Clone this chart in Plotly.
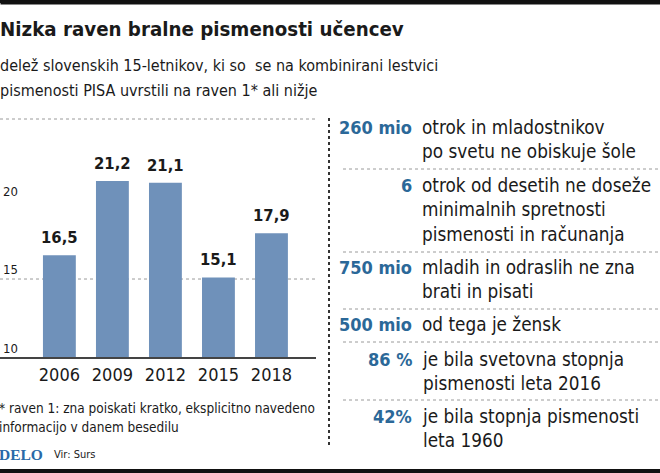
import plotly.graph_objects as go

# ---- data ----
years = ["2006", "2009", "2012", "2015", "2018"]
shares = [16.5, 21.2, 21.1, 15.1, 17.9]
y_ticks = [10, 15, 20]

stat_numbers = ["260 mio", "6", "750 mio", "500 mio", "86 %", "42%"]
stat_texts = [
    "otrok in mladostnikov<br>po svetu ne obiskuje šole",
    "otrok od desetih ne doseže<br>minimalnih spretnosti<br>pismenosti in računanja",
    "mladih in odraslih ne zna<br>brati in pisati",
    "od tega je žensk",
    "je bila svetovna stopnja<br>pismenosti leta 2016",
    "je bila stopnja pismenosti<br>leta 1960",
]

title = "Nizka raven bralne pismenosti učencev"
subtitle = ["delež slovenskih 15-letnikov, ki so  se na kombinirani lestvici",
            "pismenosti PISA uvrstili na raven 1* ali nižje"]
footnote = ["* raven 1: zna poiskati kratko, eksplicitno navedeno",
            "informacijo v danem besedilu"]
source = "Vir: Surs"
brand = "DELO"

# ---- style ----
W, H = 660, 473
FONT = "DejaVu Sans Condensed, DejaVu Sans, sans-serif"
BAR = "#6f91ba"
BLUE = "#2b6898"
TXT = "#1a1a1a"


def px(x):
    return x / W


def py(y):
    return 1 - y / H


fig = go.Figure()
fig.add_trace(go.Bar(x=years, y=shares, marker_color=BAR, marker_line_width=0,
                     hoverinfo="skip"))

ann = []
# value labels (category index positions taken from the data order)
for i, v in enumerate(shares):
    ann.append(dict(x=i, y=v, xref="x", yref="y", text=f"<b>{v:.1f}</b>".replace(".", ","),
                    showarrow=False, yanchor="bottom", yshift=6,
                    font=dict(family=FONT, size=16.5, color=TXT)))

# top black rule as a filled annotation box
ann.append(dict(x=0, y=1, xref="paper", yref="paper", xanchor="left", yanchor="top",
                text=" ", showarrow=False, width=W, height=1, bgcolor="#111111",
                borderpad=1, font=dict(size=1)))

# title & subtitle
ann.append(dict(x=px(-2), y=py(29), xref="paper", yref="paper", xanchor="left", yanchor="middle",
                text=f"<b>{title}</b>", showarrow=False,
                font=dict(family=FONT, size=20.3, color=TXT)))
for i, s in enumerate(subtitle):
    ann.append(dict(x=px(-2), y=py(65 + 26 * i), xref="paper", yref="paper", xanchor="left",
                    yanchor="middle", text=s, showarrow=False,
                    font=dict(family=FONT, size=16, color=TXT, weight=300)))

# right panel
row_centers = [128, 186, 268, 325, 360, 417]
for num, txt, yc in zip(stat_numbers, stat_texts, row_centers):
    ann.append(dict(x=px(414), y=py(yc - 13), xref="paper", yref="paper", xanchor="right",
                    yanchor="top", text=f"<b>{num}</b>", showarrow=False,
                    font=dict(family=FONT, size=18, color=BLUE)))
    ann.append(dict(x=px(420), y=py(yc - 13), xref="paper", yref="paper", xanchor="left",
                    yanchor="top", align="left", text=txt, showarrow=False,
                    font=dict(family=FONT, size=18.8, color=TXT)))

# footnote & source
for i, s in enumerate(footnote):
    ann.append(dict(x=px(-3), y=py(408 + 19 * i), xref="paper", yref="paper", xanchor="left",
                    yanchor="middle", text=s, showarrow=False,
                    font=dict(family=FONT, size=13.5, color=TXT)))
ann.append(dict(x=px(-3), y=py(454), xref="paper", yref="paper", xanchor="left", yanchor="middle",
                text=f"<b>{brand}</b>", showarrow=False,
                font=dict(family="Liberation Serif, DejaVu Serif, serif", size=15.5, color="#2a6aa8")))
ann.append(dict(x=px(52), y=py(454), xref="paper", yref="paper", xanchor="left", yanchor="middle",
                text=source, showarrow=False,
                font=dict(family=FONT, size=11, color=TXT)))

dot = dict(color="#9a9a9a", width=1, dash="dot")
shapes = [
    # black rules top & bottom
    dict(type="rect", xref="paper", yref="paper", x0=0, x1=1, y0=py(3), y1=1,
         fillcolor="#111111", line=dict(width=0), layer="above"),
    dict(type="line", xref="paper", yref="paper", x0=0, x1=1, y0=py(471), y1=py(471),
         line=dict(color="#111", width=4)),
    # top dotted line over chart
    dict(type="line", xref="paper", yref="paper", x0=0, x1=px(318), y0=py(119), y1=py(119), line=dot),
    # gridline at 15
    dict(type="line", xref="paper", yref="y", x0=0, x1=px(318), y0=15, y1=15, line=dot, layer="below"),
    # baseline
    dict(type="line", xref="paper", yref="paper", x0=0, x1=px(316), y0=py(358), y1=py(358),
         line=dict(color="#444", width=2)),
    # vertical separator
    dict(type="line", xref="paper", yref="paper", x0=px(329), x1=px(329), y0=py(118), y1=py(447),
         line=dict(color="#333", width=2, dash="dot")),
]
for ys in [169, 252, 309, 342, 400]:
    shapes.append(dict(type="line", xref="paper", yref="paper", x0=px(343), x1=1,
                       y0=py(ys), y1=py(ys), line=dot))

fig.update_layout(
    width=W, height=H, margin=dict(l=0, r=0, t=0, b=0),
    paper_bgcolor="white", plot_bgcolor="white",
    showlegend=False, bargap=0.38,
    annotations=ann, shapes=shapes,
    xaxis=dict(domain=[0, px(316)], range=[-1.12, 4.84], type="category",
               showgrid=False, showline=False, ticks="", zeroline=False,
               ticklabelstandoff=4,
               tickfont=dict(family=FONT, size=18, color=TXT)),
    yaxis=dict(domain=[py(358), py(119)], range=[10, 25.13], tickvals=y_ticks,
               showgrid=False, zeroline=False, showline=False, ticks="",
               ticklabelposition="inside top",
               tickfont=dict(family=FONT, size=13, color=TXT)),
)

fig.write_html("out.html", config={"displayModeBar": False},
               post_script="document.body.style.margin='0';document.body.style.overflow='hidden';")
